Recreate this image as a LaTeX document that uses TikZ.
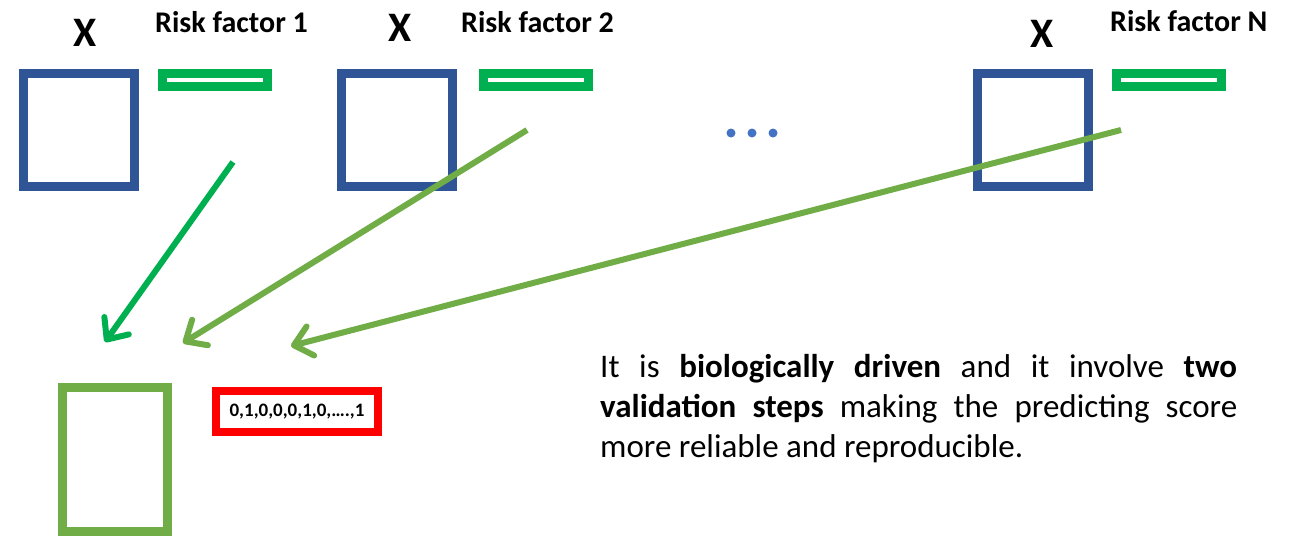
\documentclass[tikz,border=0pt]{standalone}
\usepackage{fontspec}
\setmainfont{Carlito}
\usetikzlibrary{arrows.meta}
\definecolor{boxblue}{HTML}{2F5597}
\definecolor{dotblue}{HTML}{4472C4}
\definecolor{bargreen}{HTML}{00B050}
\definecolor{lightgreen}{HTML}{70AD47}
\definecolor{scorered}{HTML}{FF0000}
\begin{document}
\begin{tikzpicture}[x=1pt,y=-1pt,
  factorbox/.style={draw=boxblue, line width=9pt, minimum width=111pt, minimum height=113pt, inner sep=0pt},
  factorbar/.style={draw=bargreen, line width=9pt, minimum width=105pt, minimum height=13pt, inner sep=0pt},
  xlabel/.style={anchor=base, inner sep=0pt, font=\fontsize{42}{42}\selectfont\bfseries},
  rflabel/.style={anchor=base west, inner sep=0pt, font=\fontsize{30}{30}\selectfont\bfseries},
  dot/.style={circle, fill=dotblue, minimum size=9pt, inner sep=0pt},
  feed/.style={line width=6pt, -{Straight Barb[length=17pt,width=30pt,round]}},
  paraline/.style={anchor=base west, inner sep=0pt, font=\fontsize{33}{40}\selectfont}
]
\useasboundingbox (0,0) rectangle (1299,536);

% risk factor blocks
\node[factorbox] (b1) at (78.5,130) {};
\node[factorbox] (b2) at (397,130) {};
\node[factorbox] (b3) at (1033,130) {};
\node[factorbar] (r1) at (215,80) {};
\node[factorbar] (r2) at (535.5,80) {};
\node[factorbar] (r3) at (1169,80) {};
\node[xlabel] (x1) at (85,46) {X};
\node[xlabel] (x2) at (400,41) {X};
\node[xlabel] (x3) at (1042,47) {X};
\node[rflabel] (l1) at (155,32) {Risk factor 1};
\node[rflabel] (l2) at (461,32) {Risk factor 2};
\node[rflabel] (l3) at (1110,31) {Risk factor N};

% ellipsis dots
\node[dot] (d1) at (731,133) {};
\node[dot] (d2) at (752,133) {};
\node[dot] (d3) at (773,133) {};

% combined score
\node[draw=lightgreen, line width=9pt, minimum width=105pt, minimum height=144pt, inner sep=0pt] (score) at (115,459.5) {};
\node[draw=scorered, line width=8pt, minimum width=162pt, minimum height=41pt, inner sep=0pt,
      font=\fontsize{19}{19}\selectfont\bfseries] (code) at (297,411.5) {0,1,0,0,0,1,0,….,1};

% arrows into the score
\coordinate (a1s) at (233,162);
\coordinate (a1e) at (105,342);
\coordinate (a2s) at (527,130);
\coordinate (a2e) at (183,343);
\coordinate (a3s) at (1121,130);
\coordinate (a3e) at (291,346);
\draw[feed, bargreen] (a1s) -- (a1e);
\draw[feed, lightgreen] (a2s) -- (a2e);
\draw[feed, lightgreen] (a3s) -- (a3e);

% description
\node[paraline] (p1) at (600,377) {\makebox[637pt][s]{It is \textbf{biologically driven} and it involve \textbf{two}}};
\node[paraline] (p2) at (600,417) {\makebox[637pt][s]{\textbf{validation steps} making the predicting score}};
\node[paraline] (p3) at (600,457) {more reliable and reproducible.};
\end{tikzpicture}
\end{document}
